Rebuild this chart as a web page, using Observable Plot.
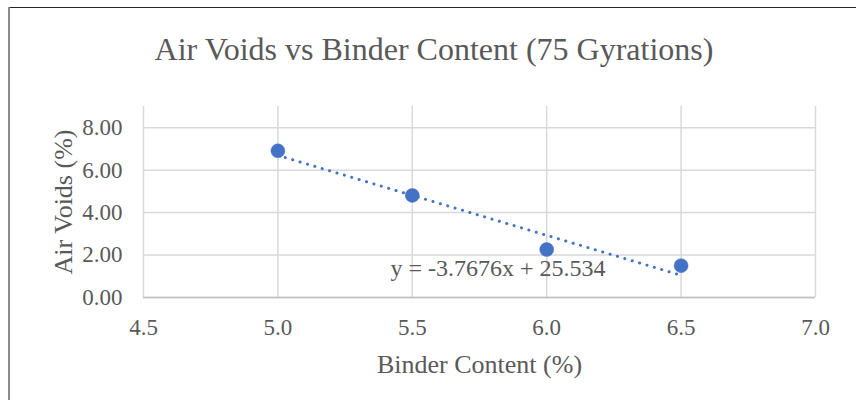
<!DOCTYPE html>
<html>
<head>
<meta charset="utf-8">
<script src="https://cdn.jsdelivr.net/npm/d3@7"></script>
<script src="https://cdn.jsdelivr.net/npm/@observablehq/plot@0.6"></script>
<style>
  html, body { margin: 0; padding: 0; background: #fff; }
  #wrap { position: relative; width: 856px; height: 400px; overflow: hidden; font-family: "Liberation Serif", "Times New Roman", serif; }
  #topline { position: absolute; left: 8px; top: 7px; width: 848px; height: 1px; background: #262626; }
  #leftline { position: absolute; left: 8px; top: 7px; width: 2px; height: 393px; background: #8a8a8a; }
  #title { position: absolute; left: 6px; width: 856px; top: 31px; text-align: center; font-size: 32px; line-height: 36px; color: #595959; }
  #chart { position: absolute; left: 0; top: 0; }
</style>
</head>
<body>
<div id="wrap">
  <div id="chart"></div>
  <div id="title">Air Voids vs Binder Content (75 Gyrations)</div>
  <div id="topline"></div>
  <div id="leftline"></div>
</div>
<script>
const binderContent = [5.0, 5.5, 6.0, 6.5];
const airVoids = [6.91, 4.81, 2.26, 1.50];
const xTicks = [4.5, 5.0, 5.5, 6.0, 6.5, 7.0];
const yTicks = [0, 2, 4, 6, 8];
const trendSlope = -3.7676;
const trendIntercept = 25.534;
const trendLabel = "y = -3.7676x + 25.534";

const points = binderContent.map((x, i) => ({x, y: airVoids[i]}));
const xMin = d3.min(binderContent), xMax = d3.max(binderContent);
const trend = [xMin, xMax].map(x => ({x, y: trendSlope * x + trendIntercept}));

const blue = "#4472C4";
const textColor = "#595959";
const font = "Liberation Serif, Times New Roman, serif";

const chart = Plot.plot({
  width: 856,
  height: 400,
  marginLeft: 143,
  marginRight: 41,
  marginTop: 106,
  marginBottom: 103,
  style: { fontFamily: font, color: textColor, background: "transparent" },
  x: { domain: [4.5, 7.0], axis: null },
  y: { domain: [0, 9], axis: null },
  marks: [
    Plot.gridY(yTicks, { stroke: "#d9d9d9", strokeOpacity: 1, strokeWidth: 1.5 }),
    Plot.gridX(xTicks, { stroke: "#d9d9d9", strokeOpacity: 1, strokeWidth: 1.5 }),
    Plot.ruleY([0], { stroke: "#bfbfbf", strokeWidth: 1.5 }),
    Plot.text(yTicks, { y: d => d, frameAnchor: "left", textAnchor: "end", dx: -21, text: d => d.toFixed(2), fontSize: 23, fill: textColor, fontFamily: font }),
    Plot.text(xTicks, { x: d => d, frameAnchor: "bottom", lineAnchor: "middle", dy: 30, text: d => d.toFixed(1), fontSize: 23, fill: textColor, fontFamily: font }),
    Plot.text(["Air Voids (%)"], { frameAnchor: "left", textAnchor: "middle", rotate: -90, dx: -80, fontSize: 26, fill: textColor, fontFamily: font }),
    Plot.text(["Binder Content (%)"], { frameAnchor: "bottom", dy: 75, fontSize: 26, fill: textColor, fontFamily: font }),
    Plot.line(trend, { x: "x", y: "y", stroke: blue, strokeWidth: 3, strokeDasharray: "0.1 7.6", strokeLinecap: "round" }),
    Plot.dot(points, { x: "x", y: "y", r: 7, fill: blue, stroke: blue, strokeWidth: 0.5 }),
    Plot.text([trendLabel], { x: 5.419, y: 1.38, textAnchor: "start", fontSize: 24, fill: textColor, fontFamily: font })
  ]
});
document.getElementById("chart").appendChild(chart);
</script>
</body>
</html>
